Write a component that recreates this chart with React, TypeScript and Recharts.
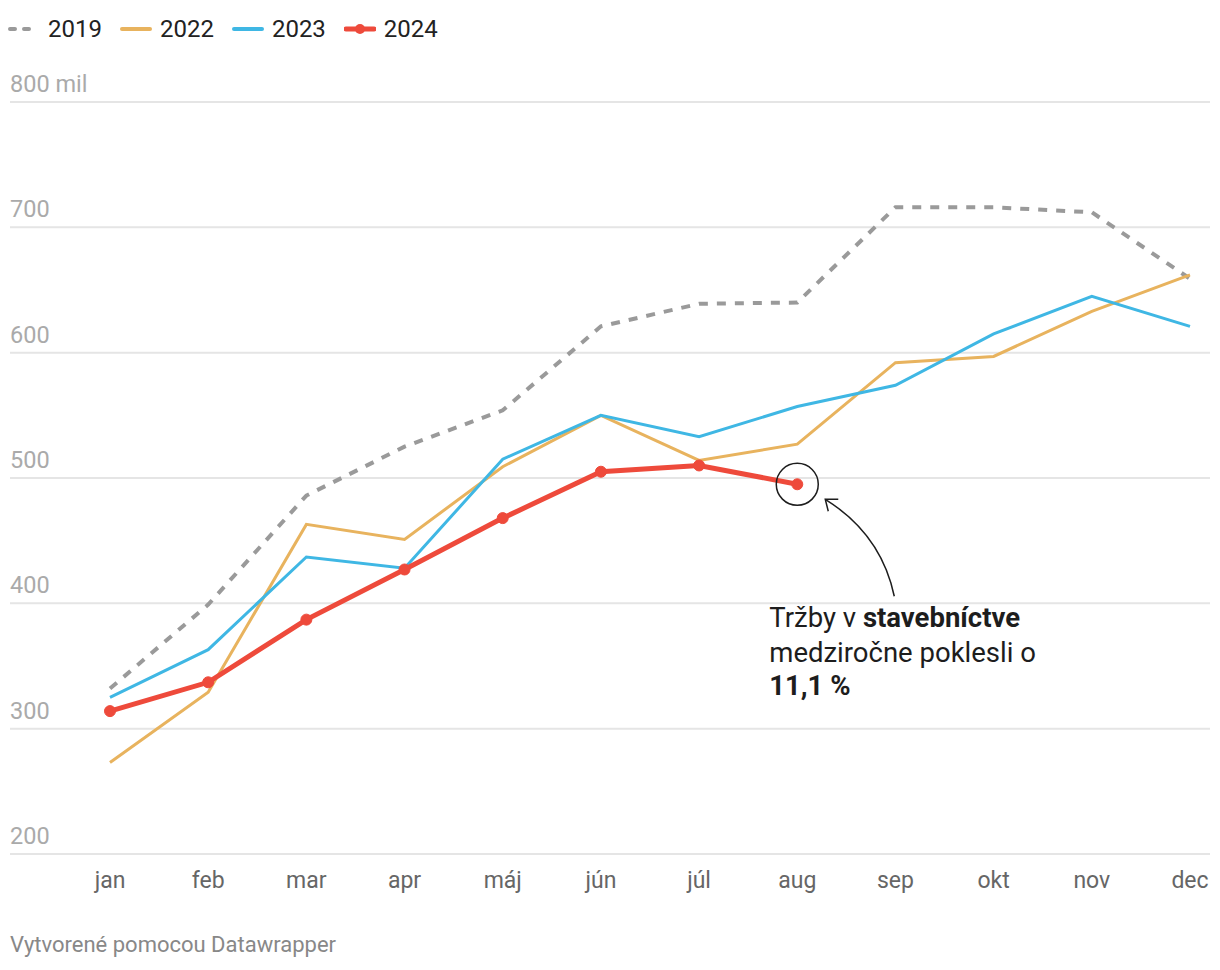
import { LineChart, Line, XAxis, YAxis, CartesianGrid, ReferenceDot } from "recharts";

const months = ["jan", "feb", "mar", "apr", "máj", "jún", "júl", "aug", "sep", "okt", "nov", "dec"];
const s2019 = [332, 399, 486, 525, 554, 621, 639, 640, 716, 716, 712, 659];
const s2022 = [273, 329, 463, 451, 509, 550, 514, 527, 592, 597, 633, 662];
const s2023 = [325, 363, 437, 428, 515, 550, 533, 557, 574, 615, 645, 621];
const s2024 = [314, 337, 387, 427, 468, 505, 510, 495];
const yTicks = [200, 300, 400, 500, 600, 700, 800];

const data = months.map((m, i) => ({
  month: m,
  y2019: s2019[i],
  y2022: s2022[i],
  y2023: s2023[i],
  y2024: s2024[i],
}));

const FONT = "Roboto, sans-serif";
const GRAY = "#9a9a9a";
const ORANGE = "#e8b35e";
const BLUE = "#3fb7e4";
const RED = "#ee4a3b";

function YTick(props: any) {
  const { x, y, payload } = props;
  const label = payload.value === 800 ? "800 mil" : String(payload.value);
  return (
    <text x={x} y={y - 10} textAnchor="start" fill="#aaaaaa" fontSize={23.5} fontFamily={FONT}>
      {label}
    </text>
  );
}

function XTick(props: any) {
  const { x, y, payload } = props;
  return (
    <text x={x} y={y + 34} textAnchor="middle" fill="#666666" fontSize={23} fontFamily={FONT}>
      {payload.value}
    </text>
  );
}

function Note(props: any) {
  const { cx, cy } = props;
  if (cx == null || cy == null) return null;
  const sx = cx + 97, sy = cy + 112;
  const tx = cx + 28, ty = cy + 15;
  return (
    <g>
      <circle cx={cx} cy={cy} r={21} fill="none" stroke="#1d1d1d" strokeWidth={1.5} />
      <path d={`M${sx},${sy} Q${cx + 84},${cy + 50} ${tx},${ty}`} fill="none" stroke="#1d1d1d" strokeWidth={1.5} />
      <path d={`M${tx + 13},${ty} L${tx},${ty} L${tx + 3},${ty + 12}`} fill="none" stroke="#1d1d1d" strokeWidth={1.5} />
      <text x={cx - 28} y={cy + 143} fontSize={27.5} fontFamily={FONT} fill="#1d1d1d">
        Tržby v <tspan fontWeight={700}>stavebníctve</tspan>
      </text>
      <text x={cx - 28} y={cy + 178} fontSize={27.5} fontFamily={FONT} fill="#1d1d1d">
        medziročne poklesli o
      </text>
      <text x={cx - 28} y={cy + 211} fontSize={27.5} fontFamily={FONT} fill="#1d1d1d" fontWeight={700}>
        11,1 %
      </text>
    </g>
  );
}

function LegendItem({ color, label, dashed, dot }: { color: string; label: string; dashed?: boolean; dot?: boolean }) {
  return (
    <div style={{ display: "flex", alignItems: "center", marginRight: 18 }}>
      <svg width={32} height={12} style={{ marginRight: 8 }}>
        <line
          x1={2}
          y1={6}
          x2={30}
          y2={6}
          stroke={color}
          strokeWidth={dot ? 5 : 4}
          strokeLinecap="round"
          strokeDasharray={dashed ? "5 9" : undefined}
        />
        {dot && <circle cx={16} cy={6} r={5} fill={color} />}
      </svg>
      <span>{label}</span>
    </div>
  );
}

export default function App() {
  return (
    <div style={{ position: "absolute", left: 0, top: 0, width: 1220, height: 970, background: "#fff", fontFamily: FONT }}>
      <div style={{ position: "absolute", left: 8, top: 14, display: "flex", fontSize: 24, color: "#222", lineHeight: "30px" }}>
        <LegendItem color={GRAY} label="2019" dashed />
        <LegendItem color={ORANGE} label="2022" />
        <LegendItem color={BLUE} label="2023" />
        <LegendItem color={RED} label="2024" dot />
      </div>
      <LineChart width={1220} height={970} data={data} margin={{ top: 102, right: 10, bottom: 76, left: 10 }}>
        <CartesianGrid vertical={false} stroke="#e5e5e5" strokeWidth={2} />
        <XAxis
          dataKey="month"
          axisLine={false}
          tickLine={false}
          tickSize={0}
          tickMargin={0}
          height={40}
          interval={0}
          padding={{ left: 100, right: 20 }}
          tick={<XTick />}
        />
        <YAxis
          domain={[200, 800]}
          ticks={yTicks}
          width={80}
          mirror
          axisLine={false}
          tickLine={false}
          tickSize={0}
          tickMargin={0}
          tick={<YTick />}
        />
        <Line dataKey="y2019" stroke={GRAY} strokeWidth={4} strokeDasharray="9 9" dot={false} isAnimationActive={false} />
        <Line dataKey="y2022" stroke={ORANGE} strokeWidth={3} dot={false} isAnimationActive={false} />
        <Line dataKey="y2023" stroke={BLUE} strokeWidth={3} dot={false} isAnimationActive={false} />
        <Line
          dataKey="y2024"
          stroke={RED}
          strokeWidth={5}
          dot={{ r: 5.5, fill: RED, stroke: RED, strokeWidth: 1 }}
          isAnimationActive={false}
        />
        <ReferenceDot x="aug" y={s2024[7]} r={21} shape={<Note />} />
      </LineChart>
      <div style={{ position: "absolute", left: 10, top: 932, fontSize: 22, color: "#888" }}>Vytvorené pomocou Datawrapper</div>
    </div>
  );
}
